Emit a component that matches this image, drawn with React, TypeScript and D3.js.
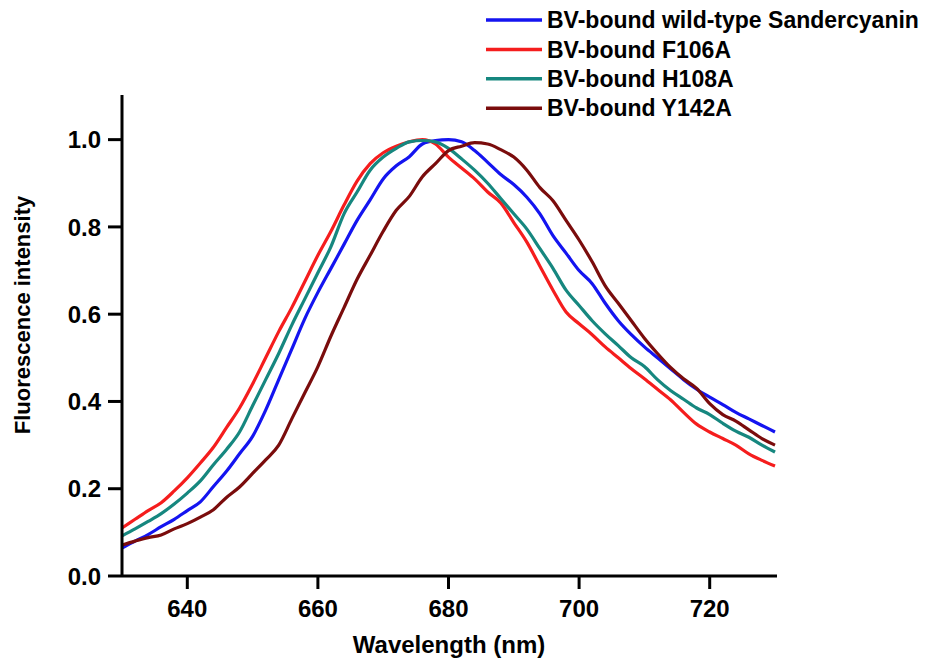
import React, { useEffect, useRef } from "react";
import * as d3 from "d3";

// wavelength grid (nm), 2 nm steps
const wavelengths = d3.range(630, 731, 2);

const wildType = [
  0.064, 0.08, 0.095, 0.113, 0.13, 0.15, 0.17, 0.205, 0.24, 0.28, 0.32, 0.38, 0.45,
  0.52, 0.59, 0.65, 0.705, 0.76, 0.815, 0.862, 0.91, 0.94, 0.961, 0.99, 0.998, 1.0,
  0.995, 0.975, 0.948, 0.92, 0.897, 0.868, 0.83, 0.78, 0.74, 0.7, 0.67, 0.625, 0.585,
  0.553, 0.525, 0.5, 0.475, 0.45, 0.428, 0.41, 0.393, 0.375, 0.36, 0.345, 0.33,
];
const f106a = [
  0.11, 0.13, 0.15, 0.168, 0.195, 0.225, 0.259, 0.295, 0.34, 0.385, 0.44, 0.5, 0.56,
  0.615, 0.675, 0.735, 0.79, 0.85, 0.905, 0.945, 0.97, 0.985, 0.995, 1.0, 0.99, 0.96,
  0.935, 0.91, 0.88, 0.855, 0.81, 0.765, 0.71, 0.655, 0.605, 0.578, 0.553, 0.525, 0.5,
  0.475, 0.452, 0.428, 0.404, 0.375, 0.348, 0.33, 0.315, 0.3, 0.28, 0.265, 0.252,
];
const h108a = [
  0.092, 0.108, 0.125, 0.143, 0.165, 0.19, 0.218, 0.255, 0.29, 0.33, 0.39, 0.45, 0.51,
  0.575, 0.635, 0.695, 0.755, 0.83, 0.88, 0.93, 0.96, 0.98, 0.995, 0.998, 0.995, 0.98,
  0.956, 0.93, 0.9, 0.865, 0.83, 0.795, 0.75, 0.705, 0.655, 0.62, 0.585, 0.555, 0.528,
  0.5, 0.48, 0.45, 0.425, 0.405, 0.385, 0.37, 0.35, 0.332, 0.318, 0.3, 0.284,
];
const y142a = [
  0.071, 0.08, 0.088, 0.094, 0.108, 0.12, 0.135, 0.152, 0.18, 0.204, 0.235, 0.266, 0.3,
  0.36, 0.42, 0.48, 0.55, 0.615, 0.68, 0.735, 0.79, 0.838, 0.87, 0.915, 0.945, 0.975,
  0.985, 0.993, 0.99, 0.977, 0.96, 0.93, 0.89, 0.86, 0.815, 0.77, 0.72, 0.665, 0.625,
  0.585, 0.545, 0.51, 0.478, 0.452, 0.43, 0.395, 0.37, 0.355, 0.335, 0.315, 0.3,
];

const seriesNames = [
  "BV-bound wild-type Sandercyanin",
  "BV-bound F106A",
  "BV-bound H108A",
  "BV-bound Y142A",
];
const seriesValues = [wildType, f106a, h108a, y142a];
const seriesColors = ["#1414f0", "#f51d1d", "#16877f", "#7a0c0c"];

const xTicks = [640, 660, 680, 700, 720];
const yTicks = [0, 0.2, 0.4, 0.6, 0.8, 1.0];

const App = () => {
  const ref = useRef<SVGSVGElement>(null);

  useEffect(() => {
    const svg = d3.select(ref.current);
    svg.selectAll("*").remove();

    const x = d3.scaleLinear().domain([630, 730]).range([122, 775]);
    const y = d3.scaleLinear().domain([0, 1.1]).range([576, 96]);
    const font = "'Liberation Sans', Arial, sans-serif";

    // curves
    const line = d3
      .line<number>()
      .x((d, i) => x(wavelengths[i]))
      .y((d) => y(d))
      .curve(d3.curveMonotoneX);

    seriesValues.forEach((vals, i) => {
      svg
        .append("path")
        .attr("d", line(vals))
        .attr("fill", "none")
        .attr("stroke", seriesColors[i])
        .attr("stroke-width", 3.2)
        .attr("stroke-linejoin", "round");
    });

    // axes
    const ax = svg.append("g").attr("stroke", "#000").attr("stroke-width", 3);
    ax.append("line").attr("x1", 122).attr("x2", 122).attr("y1", 95).attr("y2", 577);
    ax.append("line").attr("x1", 122).attr("x2", 777).attr("y1", 576).attr("y2", 576);

    yTicks.forEach((t) => {
      ax.append("line").attr("x1", 108).attr("x2", 122).attr("y1", y(t)).attr("y2", y(t));
      svg
        .append("text")
        .attr("x", 101)
        .attr("y", y(t))
        .attr("dy", "0.36em")
        .attr("text-anchor", "end")
        .style("font", `bold 24px ${font}`)
        .text(t.toFixed(1));
    });

    xTicks.forEach((t) => {
      ax.append("line").attr("x1", x(t)).attr("x2", x(t)).attr("y1", 576).attr("y2", 589);
      svg
        .append("text")
        .attr("x", x(t))
        .attr("y", 617)
        .attr("text-anchor", "middle")
        .style("font", `bold 24px ${font}`)
        .text(t);
    });

    svg
      .append("text")
      .attr("x", 449)
      .attr("y", 653)
      .attr("text-anchor", "middle")
      .style("font", `bold 24px ${font}`)
      .text("Wavelength (nm)");

    svg
      .append("text")
      .attr("transform", "translate(30,315) rotate(-90)")
      .attr("text-anchor", "middle")
      .style("font", `bold 22px ${font}`)
      .text("Fluorescence intensity");

    // legend
    seriesNames.forEach((name, i) => {
      const ly = 20 + i * 29.4;
      svg
        .append("line")
        .attr("x1", 486)
        .attr("x2", 542)
        .attr("y1", ly)
        .attr("y2", ly)
        .attr("stroke", seriesColors[i])
        .attr("stroke-width", 3.5);
      svg
        .append("text")
        .attr("x", 547)
        .attr("y", ly)
        .attr("dy", "0.36em")
        .style("font", `bold 23px ${font}`)
        .text(name);
    });
  }, []);

  return (
    <div style={{ position: "absolute", left: 0, top: 0 }}>
      <svg ref={ref} width={929} height={664} style={{ display: "block", background: "#fff" }}></svg>
    </div>
  );
};

export default App;
